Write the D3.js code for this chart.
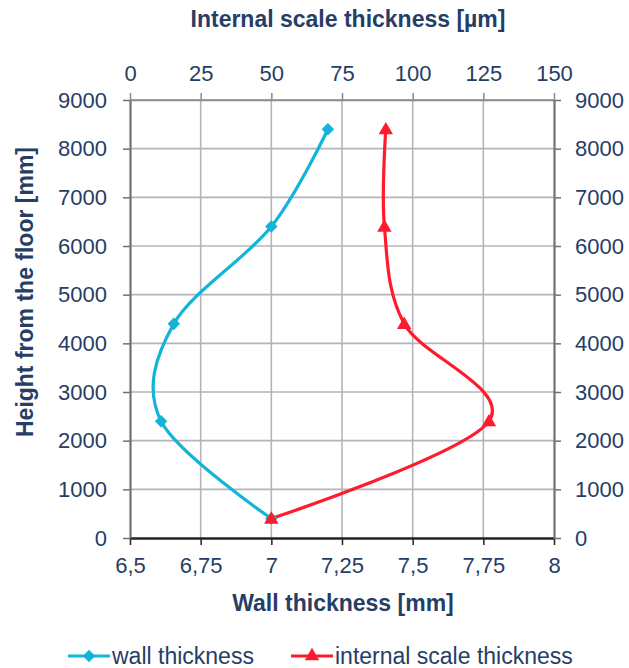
<!DOCTYPE html>
<html>
<head>
<meta charset="utf-8">
<script src="https://cdn.jsdelivr.net/npm/d3@7"></script>
<style>
  html, body { margin: 0; padding: 0; background: #fff; }
  svg { display: block; font-family: "Liberation Sans", Arial, sans-serif; }
</style>
</head>
<body>
<svg id="chart" width="629" height="668"></svg>
<script>
// Measurement heights and the two measured profiles
const heights = [400, 2400, 4400, 6400, 8400];          // mm from the floor
const wallThickness = [7.0, 6.61, 6.655, 7.0, 7.2];      // mm (bottom axis)
const scaleThickness = [50, 127, 97, 90, 90.5];          // µm (top axis)

const wallTicks = [6.5, 6.75, 7, 7.25, 7.5, 7.75, 8];
const scaleTicks = [0, 25, 50, 75, 100, 125, 150];
const heightTicks = [0, 1000, 2000, 3000, 4000, 5000, 6000, 7000, 8000, 9000];

const textColor = "#263d66";
const gridColor = "#b4b4bc";
const blue = "#13b4d9";
const red = "#ff1a2d";

const svg = d3.select("#chart");
const m = { left: 130, right: 554, top: 100, bottom: 538 };

const xWall = d3.scaleLinear().domain([6.5, 8]).range([m.left, m.right]);
const xScale = d3.scaleLinear().domain([0, 150]).range([m.left, m.right]);
const y = d3.scaleLinear().domain([0, 9000]).range([m.bottom, m.top]);

const fmtComma = d => String(d).replace(".", ",");
const fmtPlain = d => String(d);

// grid
const grid = svg.append("g");
grid.selectAll("line.v").data(wallTicks.slice(1, -1)).join("line")
  .attr("x1", d => xWall(d)).attr("x2", d => xWall(d))
  .attr("y1", m.top).attr("y2", m.bottom)
  .attr("stroke", gridColor).attr("stroke-width", 1.6);
grid.selectAll("line.h").data(heightTicks.slice(1)).join("line")
  .attr("x1", m.left).attr("x2", m.right)
  .attr("y1", d => y(d)).attr("y2", d => y(d))
  .attr("stroke", d => d === 9000 ? "#8a8a90" : gridColor).attr("stroke-width", 1.6);

// axes
const styleAxis = (g, color, width) => {
  g.select(".domain").attr("stroke", color).attr("stroke-width", width);
  g.selectAll(".tick line").attr("stroke", color).attr("stroke-width", 1.5);
  g.selectAll(".tick text").attr("fill", textColor).style("font-size", "22px")
    .style("font-family", "'Liberation Sans', Arial, sans-serif");
};

const axBottom = svg.append("g").attr("transform", `translate(0,${m.bottom})`)
  .call(d3.axisBottom(xWall).tickValues(wallTicks).tickFormat(fmtComma).tickSize(7).tickSizeOuter(0).tickPadding(12));
styleAxis(axBottom, "#222", 2.5);

const axTop = svg.append("g").attr("transform", `translate(0,${m.top})`)
  .call(d3.axisTop(xScale).tickValues(scaleTicks).tickFormat(fmtPlain).tickSize(7).tickSizeOuter(0).tickPadding(12));
styleAxis(axTop, "#8a8a90", 1.6);

const axLeft = svg.append("g").attr("transform", `translate(${m.left},0)`)
  .call(d3.axisLeft(y).tickValues(heightTicks).tickFormat(fmtPlain).tickSize(7).tickSizeOuter(0).tickPadding(16));
styleAxis(axLeft, "#707078", 2.2);

const axRight = svg.append("g").attr("transform", `translate(${m.right},0)`)
  .call(d3.axisRight(y).tickValues(heightTicks).tickFormat(fmtPlain).tickSize(7).tickSizeOuter(0).tickPadding(14));
styleAxis(axRight, "#707078", 2.2);

// axis titles
const titleStyle = sel => sel.attr("fill", textColor).attr("text-anchor", "middle")
  .style("font-size", "23px").style("font-weight", "bold");
svg.append("text").attr("x", 348).attr("y", 27).call(titleStyle)
  .text("Internal scale thickness [µm]");
svg.append("text").attr("x", 343).attr("y", 611).call(titleStyle)
  .text("Wall thickness [mm]");
svg.append("text").attr("transform", "translate(33,292) rotate(-90)").call(titleStyle)
  .text("Height from the floor [mm]");

// series
const curve = d3.curveCardinal.tension(0);
const wallPts = heights.map((h, i) => [xWall(wallThickness[i]), y(h)]);
const scalePts = heights.map((h, i) => [xScale(scaleThickness[i]), y(h)]);

svg.append("path").attr("d", d3.line().curve(curve)(wallPts))
  .attr("fill", "none").attr("stroke", blue).attr("stroke-width", 3.2);
svg.append("path").attr("d", d3.line().curve(curve)(scalePts))
  .attr("fill", "none").attr("stroke", red).attr("stroke-width", 3.2);

const diamond = d3.symbol().type(d3.symbolDiamond2).size(100);
const triangle = d3.symbol().type(d3.symbolTriangle).size(90);

svg.append("g").selectAll("path").data(wallPts).join("path")
  .attr("transform", d => `translate(${d[0]},${d[1]})`)
  .attr("d", diamond).attr("fill", blue);
svg.append("g").selectAll("path").data(scalePts).join("path")
  .attr("transform", d => `translate(${d[0]},${d[1] + 1})`)
  .attr("d", triangle).attr("fill", red);

// legend
const legend = svg.append("g");
const items = [
  { x: 68, label: "wall thickness", color: blue, sym: diamond },
  { x: 291, label: "internal scale thickness", color: red, sym: triangle }
];
items.forEach(it => {
  legend.append("line").attr("x1", it.x).attr("x2", it.x + 42)
    .attr("y1", 656).attr("y2", 656).attr("stroke", it.color).attr("stroke-width", 3.2);
  legend.append("path").attr("transform", `translate(${it.x + 21},656)`)
    .attr("d", it.sym).attr("fill", it.color);
  legend.append("text").attr("x", it.x + 44).attr("y", 664)
    .attr("fill", textColor).style("font-size", "23px").text(it.label);
});
</script>
</body>
</html>
